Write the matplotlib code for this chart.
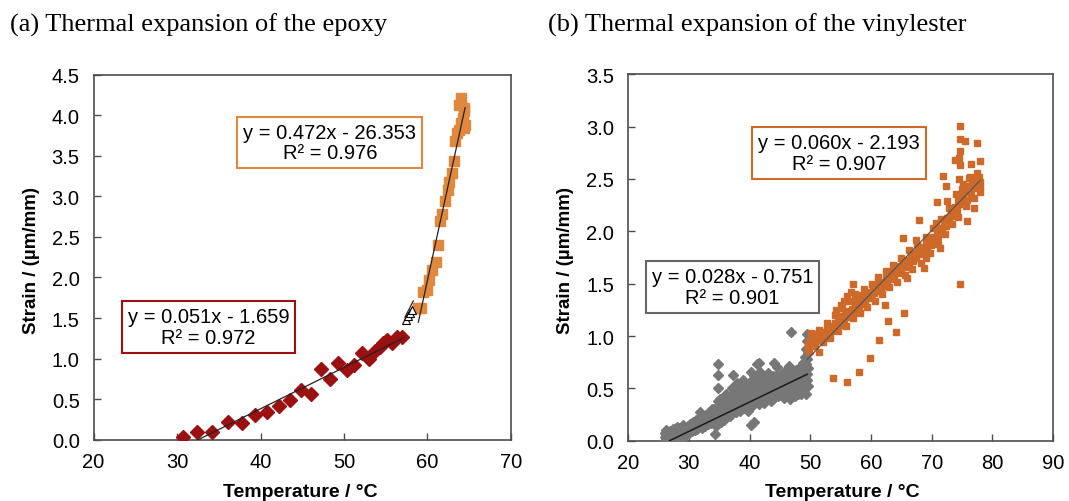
import matplotlib
matplotlib.use("Agg")
import matplotlib.pyplot as plt

plt.rcParams['font.family'] = ['Liberation Sans', 'DejaVu Sans']

# ---------------- (a) epoxy ----------------
epoxy_low_x = [30.74, 32.45, 34.2, 36.1, 37.8, 39.3, 40.75, 42.2, 43.55, 44.8, 46.0, 47.3,
               48.3, 49.3, 50.3, 51.2, 52.1, 52.95, 53.7, 54.3, 54.7, 55.15, 55.75, 56.3, 56.9]
epoxy_low_y = [0.03, 0.10, 0.095, 0.22, 0.21, 0.30, 0.34, 0.42, 0.49, 0.61, 0.56, 0.87,
               0.75, 0.94, 0.86, 0.92, 1.07, 1.00, 1.09, 1.14, 1.19, 1.23, 1.19, 1.27, 1.27]
epoxy_mid_x = [57.4, 57.7, 57.9, 58.1]
epoxy_mid_y = [1.47, 1.52, 1.56, 1.60]
epoxy_high_x = [58.9, 59.2, 59.5, 59.9, 60.2, 60.5, 61.05, 61.3, 61.55, 61.7, 62.05, 62.4,
                62.6, 62.9, 63.2, 63.3, 63.5, 63.8, 64.0, 64.3, 64.4, 64.35, 63.8, 64.0, 64.4, 64.5]
epoxy_high_y = [1.62, 1.62, 1.82, 1.84, 1.97, 2.09, 2.19, 2.40, 2.69, 2.78, 2.94, 3.08,
                3.18, 3.29, 3.43, 3.68, 3.78, 3.82, 3.90, 3.96, 3.84, 4.09, 4.13, 4.21, 4.05, 3.88]
epoxy_fit_low = (0.051, -1.659, 32.5, 57.2)
epoxy_fit_high = (0.472, -26.353, 58.9, 64.5)
epoxy_fit_mid = (0.2, -9.95, 57.3, 58.3)

# ---------------- (b) vinylester ----------------
vinyl_low = [
    (26.0, 0.00), (26.0, 0.04), (26.1, 0.07), (26.2, 0.02), (26.2, 0.10), (26.3, 0.05), (26.4, 0.00),
    (26.5, 0.08), (26.6, 0.03), (26.7, 0.06), (26.8, 0.01), (26.9, 0.09), (27.0, 0.04),
    (27.1, 0.07), (27.3, 0.02), (27.4, 0.11), (27.5, 0.05), (27.7, 0.08), (27.8, 0.03), (28.0, 0.13),
    (28.1, 0.06), (28.3, 0.09), (28.4, 0.02), (28.6, 0.12), (28.7, 0.07), (28.9, 0.10), (29.0, 0.04),
    (29.1, 0.15), (29.3, 0.08), (29.4, 0.12), (29.6, 0.05), (29.8, 0.14), (29.9, 0.10), (30.1, 0.07),
    (30.2, 0.16), (30.4, 0.12), (30.5, 0.09), (30.7, 0.18), (30.8, 0.13), (31.0, 0.10), (31.1, 0.20),
    (31.3, 0.15), (31.4, 0.11), (31.6, 0.18), (31.8, 0.14), (31.9, 0.275), (31.9, 0.22),
    (32.1, 0.17), (32.2, 0.12), (32.4, 0.23), (32.5, 0.19), (32.7, 0.14), (32.8, 0.25), (33.0, 0.20),
    (33.1, 0.16), (33.3, 0.27), (33.4, 0.22), (33.6, 0.17), (33.75, 0.30), (33.8, 0.24), (34.0, 0.19),
    (34.1, 0.30), (34.3, 0.06), (34.3, 0.25), (34.4, 0.14), (34.6, 0.28), (34.75, 0.73), (34.75, 0.63),
    (34.75, 0.505), (34.75, 0.38), (34.8, 0.21), (35.0, 0.32), (35.1, 0.26), (35.3, 0.18), (35.4, 0.35),
    (35.6, 0.29), (35.7, 0.23), (35.9, 0.37), (36.0, 0.31),
    (36.1, 0.25), (36.3, 0.40), (36.4, 0.33), (36.6, 0.27), (36.7, 0.42), (36.9, 0.36), (37.0, 0.29),
    (37.2, 0.63), (37.2, 0.44), (37.3, 0.38), (37.5, 0.31), (37.6, 0.46), (37.8, 0.40), (37.9, 0.33),
    (38.1, 0.48), (38.2, 0.36), (38.4, 0.42), (38.5, 0.28), (38.7, 0.50), (38.8, 0.38), (39.0, 0.44),
    (39.1, 0.31), (39.3, 0.52), (39.4, 0.40), (39.6, 0.46), (39.7, 0.34), (39.9, 0.55), (40.0, 0.42),
    (40.1, 0.36), (40.2, 0.66), (40.3, 0.15), (40.4, 0.49), (40.5, 0.58), (40.6, 0.40), (40.8, 0.18),
    (40.8, 0.53), (40.9, 0.44), (41.1, 0.37), (41.2, 0.60), (41.3, 0.73), (41.4, 0.47), (41.6, 0.74),
    (41.6, 0.41), (41.7, 0.55), (41.9, 0.49), (42.0, 0.38), (42.2, 0.58), (42.3, 0.45), (42.5, 0.52),
    (42.6, 0.40), (42.8, 0.62), (42.9, 0.47), (43.1, 0.55), (43.2, 0.42), (43.4, 0.60), (43.5, 0.50),
    (43.7, 0.45), (43.8, 0.57), (44.0, 0.74), (44.0, 0.52),
    (44.1, 0.41), (44.3, 0.62), (44.4, 0.48), (44.6, 0.56), (44.7, 0.43), (44.9, 0.60), (45.0, 0.51),
    (45.2, 0.46), (45.3, 0.64), (45.5, 0.54), (45.6, 0.41), (45.8, 0.59), (45.9, 0.49), (46.1, 0.68),
    (46.1, 0.57), (46.3, 0.44), (46.4, 0.62), (46.6, 0.52), (46.7, 0.40), (46.8, 1.035), (46.8, 0.66),
    (47.0, 0.55), (47.1, 0.46), (47.3, 0.61), (47.4, 0.50), (47.6, 0.68), (47.7, 0.56), (47.9, 0.45),
    (48.0, 0.63), (48.2, 0.52), (48.3, 0.70), (48.5, 0.58), (48.6, 0.47), (48.8, 0.74), (48.9, 0.62),
    (49.0, 0.50), (49.1, 0.80), (49.1, 0.68), (49.2, 0.56), (49.3, 0.88), (49.3, 0.73), (49.3, 0.45),
    (49.4, 1.02), (49.4, 0.64), (49.5, 0.95), (49.5, 0.78), (49.5, 0.58), (49.6, 0.84), (49.6, 0.69),
    (49.6, 0.52),
    (35.2, 0.40), (35.8, 0.20), (36.2, 0.45), (36.8, 0.24), (37.1, 0.50), (37.7, 0.27), (38.0, 0.55),
    (38.6, 0.33), (38.9, 0.58), (39.5, 0.36), (39.8, 0.28), (40.4, 0.33), (40.7, 0.62), (41.0, 0.51),
    (41.5, 0.35), (41.8, 0.66), (42.1, 0.50), (42.4, 0.36), (42.7, 0.55), (43.0, 0.65), (43.3, 0.48),
    (43.6, 0.38), (43.9, 0.62), (44.2, 0.55), (44.5, 0.70), (44.8, 0.47), (45.1, 0.58), (45.4, 0.44),
    (45.7, 0.66), (46.0, 0.50), (46.5, 0.71), (46.9, 0.48), (47.2, 0.58), (47.5, 0.43), (47.8, 0.62),
    (48.1, 0.56), (48.4, 0.45), (48.7, 0.54), (49.0, 0.58), (49.2, 0.62),
]
vinyl_high = [
    (49.6, 0.88), (49.7, 0.92), (49.8, 0.86), (50.0, 0.95), (50.1, 0.90), (50.3, 0.98), (50.4, 0.93),
    (50.6, 1.00), (50.7, 0.95), (50.9, 0.97), (51.0, 1.02), (51.2, 0.96), (51.3, 0.99), (51.5, 0.85),
    (51.6, 1.01), (51.8, 0.98), (52.0, 1.03), (52.2, 0.99), (52.4, 1.04), (52.6, 1.01), (52.8, 1.06),
    (53.0, 1.03), (53.2, 1.08), (53.4, 1.05), (53.6, 1.10), (53.8, 0.60), (53.9, 1.07), (54.1, 1.12),
    (54.2, 1.25), (54.3, 1.09), (54.5, 1.14), (54.7, 1.11), (54.9, 1.17), (55.0, 1.30), (55.1, 1.13),
    (55.3, 1.19), (55.5, 1.16), (55.6, 1.33), (55.8, 1.21), (56.0, 0.56), (56.0, 1.18), (56.1, 1.38),
    (56.3, 1.24), (56.5, 1.20), (56.7, 1.42), (56.8, 1.26), (57.0, 1.50), (57.1, 1.23), (57.3, 1.29),
    (57.5, 1.35), (57.6, 1.26), (57.8, 1.31), (58.06, 0.66), (58.1, 1.28), (58.3, 1.34), (58.5, 1.39),
    (58.7, 1.31), (58.9, 1.37), (59.1, 1.33), (59.3, 1.40), (59.5, 1.36), (59.9, 0.79), (59.8, 1.42),
    (60.0, 1.38), (60.3, 1.45), (60.5, 1.41), (60.8, 1.47), (61.0, 1.43), (61.4, 0.965), (61.3, 1.50),
    (61.6, 1.46), (61.9, 1.52), (62.1, 1.48), (62.3, 1.30), (62.4, 1.56), (62.6, 1.51), (62.8, 1.14),
    (62.9, 1.58), (63.2, 1.54), (63.5, 1.61), (63.8, 1.57), (64.2, 1.04), (64.1, 1.64), (64.4, 1.60),
    (64.7, 1.67), (65.0, 1.63), (65.25, 1.94), (65.4, 1.22), (65.3, 1.70), (65.6, 1.66), (65.9, 1.55),
    (66.0, 1.73), (66.3, 1.69), (66.6, 1.76), (66.9, 1.72), (67.2, 1.79), (67.4, 1.92), (67.5, 1.75),
    (67.9, 2.11), (67.8, 1.82), (68.1, 1.78), (68.4, 1.85), (68.8, 1.65), (68.7, 1.81), (69.0, 1.88),
    (69.1, 1.75), (69.3, 1.84), (69.6, 1.91), (69.9, 1.87), (70.2, 1.95), (70.5, 1.91), (70.7, 2.08),
    (70.8, 2.28), (70.8, 1.99), (71.1, 1.95), (71.4, 1.84), (71.4, 2.03), (71.7, 2.00), (71.8, 2.53),
    (72.0, 2.08), (72.3, 2.05), (72.4, 2.43), (72.6, 2.29), (72.6, 2.13), (72.9, 2.10), (73.2, 2.18),
    (73.5, 2.15), (73.8, 2.23), (73.9, 2.68), (74.1, 2.20), (74.3, 2.30), (74.5, 2.50), (74.5, 2.70),
    (74.7, 3.01), (74.7, 2.88), (74.7, 2.77), (74.7, 2.63), (74.7, 1.50), (74.6, 2.35), (74.8, 2.26),
    (75.0, 2.40), (75.2, 2.32), (75.5, 2.86), (75.5, 2.38), (75.8, 2.10), (75.8, 2.30), (76.1, 2.51),
    (76.1, 2.43), (76.4, 2.64), (76.4, 2.36), (76.7, 2.46), (77.0, 2.22), (77.0, 2.41), (77.3, 2.49),
    (77.5, 2.84), (77.6, 2.44), (77.8, 2.52), (77.9, 2.67), (78.0, 2.47), (78.0, 2.42),
    (50.2, 1.03), (50.8, 0.90), (51.4, 1.06), (52.1, 0.94), (52.7, 1.12), (53.3, 0.98), (54.0, 1.20),
    (54.6, 1.05), (55.2, 1.27), (55.9, 1.10), (56.4, 1.33), (57.0, 1.17), (57.4, 1.40), (58.2, 1.22),
    (58.8, 1.45), (59.4, 1.28), (60.1, 1.50), (60.6, 1.33), (61.2, 1.56), (61.8, 1.40), (62.5, 1.62),
    (63.0, 1.47), (63.6, 1.68), (64.3, 1.52), (64.9, 1.75), (65.6, 1.58), (66.2, 1.82), (66.8, 1.64),
    (67.6, 1.87), (68.3, 1.70), (69.0, 1.95), (69.7, 1.79), (70.3, 2.03), (71.0, 1.88), (71.6, 2.12),
    (72.2, 1.97), (72.8, 2.22), (73.4, 2.07), (74.0, 2.36), (74.4, 2.14), (75.1, 2.45), (75.6, 2.24),
    (76.3, 2.52), (76.9, 2.32), (77.4, 2.56), (77.9, 2.38),
]
vinyl_fit_low = (0.028, -0.751, 26.8, 49.5)
vinyl_fit_high = (0.060, -2.193, 49.5, 78.0)

eq_a_low = "y = 0.051x - 1.659\nR² = 0.972"
eq_a_high = "y = 0.472x - 26.353\nR² = 0.976"
eq_b_low = "y = 0.028x - 0.751\nR² = 0.901"
eq_b_high = "y = 0.060x - 2.193\nR² = 0.907"

RED = '#9B1010'
ORANGE_A = '#E0883E'
ORANGE_B = '#CD6A2A'
GRAY = '#777777'
SPINE = '#4D4D4D'

fig = plt.figure(figsize=(10.69, 5.02), dpi=100)
axa = fig.add_axes([0.0875, 0.1221, 0.3905, 0.7273])
axb = fig.add_axes([0.5876, 0.1201, 0.3975, 0.7299])


def fit_line(ax, fit, **kw):
    m, b, x0, x1 = fit
    ax.plot([x0, x1], [m * x0 + b, m * x1 + b], **kw)


def style(ax, xlim, ylim, xticks, yticks):
    ax.set_xlim(*xlim)
    ax.set_ylim(*ylim)
    ax.set_xticks(xticks)
    ax.set_yticks(yticks)
    ax.set_xticklabels([f"{t:g}" for t in xticks])
    ax.set_yticklabels([f"{t:.1f}" for t in yticks])
    for s in ax.spines.values():
        s.set_color(SPINE)
        s.set_linewidth(1.2)
    ax.tick_params(axis='both', direction='in', length=5, width=1.0, color=SPINE,
                   labelsize=14.5, labelcolor='black')
    ax.tick_params(axis='x', pad=9)
    ax.tick_params(axis='y', pad=10)


# panel a
axa.plot(epoxy_low_x, epoxy_low_y, 'D', color=RED, ms=7, mec=RED, ls='none', zorder=3)
axa.plot(epoxy_high_x, epoxy_high_y, 's', color=ORANGE_A, ms=6.5, mec=ORANGE_A, ls='none', zorder=3)
axa.plot(epoxy_mid_x, epoxy_mid_y, '^', mfc='white', mec='black', ms=6, mew=0.8, ls='none', zorder=3)
fit_line(axa, epoxy_fit_low, color='#222222', lw=0.9, zorder=4)
fit_line(axa, epoxy_fit_high, color='#222222', lw=0.9, zorder=4)
fit_line(axa, epoxy_fit_mid, color='#222222', lw=0.9, zorder=4)
style(axa, (20, 70), (0, 4.5), [20, 30, 40, 50, 60, 70], [0, 0.5, 1, 1.5, 2, 2.5, 3, 3.5, 4, 4.5])
axa.text(0.566, 0.814, eq_a_high, transform=axa.transAxes, ha='center', va='center', fontsize=14.5,
         linespacing=1.1, bbox=dict(boxstyle='square,pad=0.3', fc='white', ec=ORANGE_A, lw=1.5), zorder=5)
axa.text(0.2754, 0.309, eq_a_low, transform=axa.transAxes, ha='center', va='center', fontsize=14.5,
         linespacing=1.1, bbox=dict(boxstyle='square,pad=0.3', fc='white', ec=RED, lw=1.5), zorder=5)

# panel b
axb.plot([p[0] for p in vinyl_low], [p[1] for p in vinyl_low], 'D', color=GRAY, mec=GRAY, ms=4.8, ls='none', zorder=3)
axb.plot([p[0] for p in vinyl_high], [p[1] for p in vinyl_high], 's', color=ORANGE_B, mec=ORANGE_B, ms=3.8, ls='none', zorder=3)
fit_line(axb, vinyl_fit_low, color='#1A1A1A', lw=1.1, zorder=4)
fit_line(axb, vinyl_fit_high, color='#555555', lw=0.9, zorder=4)
style(axb, (20, 90), (0, 3.5), [20, 30, 40, 50, 60, 70, 80, 90], [0, 0.5, 1, 1.5, 2, 2.5, 3, 3.5])
axb.text(0.246, 0.419, eq_b_low, transform=axb.transAxes, ha='center', va='center', fontsize=14.5,
         linespacing=1.1, bbox=dict(boxstyle='square,pad=0.3', fc='white', ec='#666666', lw=1.5), zorder=5)
axb.text(0.497, 0.785, eq_b_high, transform=axb.transAxes, ha='center', va='center', fontsize=14.5,
         linespacing=1.1, bbox=dict(boxstyle='square,pad=0.3', fc='white', ec=ORANGE_B, lw=1.5), zorder=5)

# titles & labels
fig.text(10 / 1069, 1 - 25 / 502, "(a) Thermal expansion of the epoxy", family='Liberation Serif',
         fontsize=19, ha='left', va='center')
fig.text(548 / 1069, 1 - 25 / 502, "(b) Thermal expansion of the vinylester", family='Liberation Serif',
         fontsize=19, ha='left', va='center')
fig.text(32 / 1069, 1 - 260 / 502, "Strain / (µm/mm)", rotation=90, fontsize=13.5, fontweight='bold',
         ha='center', va='center')
fig.text(566 / 1069, 1 - 260 / 502, "Strain / (µm/mm)", rotation=90, fontsize=13.5, fontweight='bold',
         ha='center', va='center')
fig.text(300 / 1069, 1 - 497 / 502, "Temperature / °C", fontsize=14, fontweight='bold',
         ha='center', va='baseline')
fig.text(842 / 1069, 1 - 497 / 502, "Temperature / °C", fontsize=14, fontweight='bold',
         ha='center', va='baseline')

fig.savefig("out.png", dpi=100)
